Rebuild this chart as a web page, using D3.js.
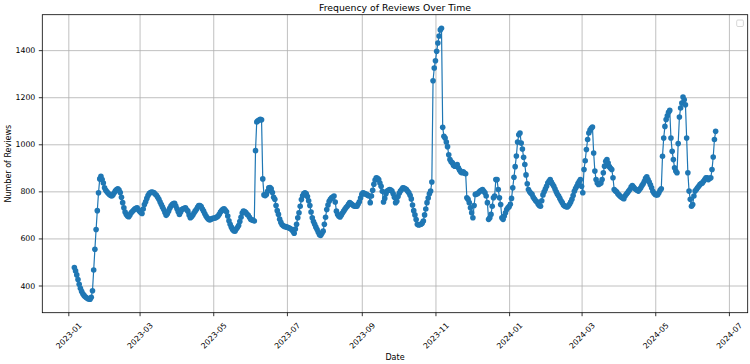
<!DOCTYPE html>
<html>
<head>
<meta charset="utf-8">
<script src="https://cdn.jsdelivr.net/npm/d3@7"></script>
<style>
  body { margin: 0; background: white; }
  svg { display: block; font-family: "DejaVu Sans", sans-serif; }
</style>
</head>
<body>
<div id="chart" style="width:750px;height:364px"></div>
<script>
// daily counts, first day below
const startDate = [2023, 0, 6]
const reviewCounts = [
  476, 462, 445, 425, 405, 388, 375, 365, 358, 352,
  348, 345, 343, 342, 350, 378, 466, 554, 638, 718,
  794, 853, 864, 850, 835, 815, 805, 798, 792, 787,
  783, 780, 786, 794, 802, 808, 811, 806, 795, 775,
  752, 730, 712, 702, 695, 692, 700, 709, 714, 720,
  725, 728, 730, 722, 716, 710,
  706, 725, 744, 756, 770, 782, 791, 795, 797, 796,
  794, 788, 783, 775, 766, 755, 744, 733, 723, 710,
  698, 705, 716, 728, 738, 744, 748, 749, 738, 726,
  713, 702, 712, 723, 726, 728, 730, 722, 716, 700,
  688, 692, 698, 708, 716, 723, 732, 740,
  740, 735, 725, 716, 705, 695, 688, 682, 678, 681,
  684, 686, 687, 688, 691, 695, 703, 712, 718, 724,
  726, 720, 713, 695, 675, 660, 648, 638, 633, 631,
  640, 646, 655, 672, 690, 708, 716, 714, 710, 703,
  698, 690, 681, 679, 677, 674, 973, 1095, 1100, 1103,
  1106, 1104,
  853, 785, 782, 787, 800, 815, 816, 811, 795, 775,
  766, 740, 718, 702, 682, 668, 658, 654, 651, 650,
  648, 646, 644, 641, 638, 630, 622, 640, 660, 688,
  709, 737, 765, 781, 791, 794, 790, 778, 760, 740,
  712, 688, 672, 660, 648, 638, 626, 616, 613, 622,
  631, 660, 690, 723, 742, 758, 766, 773, 776, 780,
  755, 716, 702, 694, 691, 698, 708, 716, 724, 731,
  737, 745, 752, 748, 744, 740, 737, 737, 737, 746,
  756, 772, 787, 794, 792, 789, 787, 783, 780, 752,
  780, 805, 830, 848, 858, 855, 850, 835, 822, 800,
  755, 770, 790, 801, 805, 808, 806, 801, 790, 775,
  752, 758, 778, 792, 801, 808, 815, 814, 811, 808,
  800, 794, 783, 768, 742, 718, 700, 680, 660, 657,
  658, 660, 665, 674, 700, 725, 752, 772, 790, 801,
  840, 1270, 1324, 1355, 1395, 1430, 1460, 1486, 1493, 1072,
  1034, 1027, 1010, 990, 955, 935, 926, 921, 910, 907,
  910, 914, 900, 890, 882, 879, 883, 878, 875, 773,
  766, 752, 730, 709, 688, 740, 787, 789, 791, 796,
  801, 805, 808, 800, 794, 780, 752, 681, 688, 702,
  737, 773, 780, 850, 850, 808, 773, 744, 688, 681,
  695, 709, 723, 730, 735, 745, 770, 815, 860, 905,
  950, 1010, 1040, 1048, 1005, 980, 945, 914, 870, 832,
  808, 798, 792, 787, 775, 767, 760, 756, 746, 740,
  737, 760, 785, 798, 810, 822, 835, 843, 850, 840,
  830, 822, 810, 798, 788, 780, 770, 760, 752, 742,
  738, 736, 734, 738, 745, 755, 766, 782, 800, 812,
  822, 833, 842, 850, 822, 794, 893, 930, 978, 1020,
  1048, 1060, 1068, 1073, 963, 886, 850, 835, 829, 832,
  836, 850, 879,
  907, 928, 935, 920, 905, 898, 893, 858, 808, 802,
  798, 790, 785, 779, 775, 772, 769, 780, 788, 794,
  801, 808, 818, 825, 818, 812, 808, 805, 801, 808,
  815, 825, 832, 843, 855, 862, 850, 840, 828, 815,
  800, 792, 787, 784, 786, 794, 805, 811, 949, 1027,
  1076, 1105, 1121, 1136, 1144, 1027, 970, 935, 900, 886,
  879, 1003, 1116, 1154, 1175, 1201, 1189, 1168, 1027, 879,
  801, 766, 737, 744, 780, 801, 808, 815, 822, 829,
  833, 836, 843, 850, 858, 858, 850, 855, 858, 893,
  946, 1020, 1055
]
const yTicks = [400, 600, 800, 1000, 1200, 1400]
const chartTitle = "Frequency of Reviews Over Time"
const xLabel = "Date"
const yLabel = "Number of Reviews"

const lineColor = "#1f77b4"
const gridColor = "#b0b0b0"

const drawLine = (container) => {
  const containerNode = d3.select(container).node();
  const Width = containerNode.getBoundingClientRect().width;
  const Height = containerNode.getBoundingClientRect().height;
  const margin = { top: 14.7, right: 2.3, bottom: 51.3, left: 42.3 },
    width = Width - margin.left - margin.right,
    height = Height - margin.top - margin.bottom;

  const svg = d3.select(container).append("svg")
    .attr("width", Width)
    .attr("height", Height);

  const data = reviewCounts.map((v, i) => ({
    date: d3.timeDay.offset(new Date(...startDate), i),
    value: v
  }));

  // 5% padding like matplotlib autoscale
  const [d0, d1] = d3.extent(data, d => d.date);
  const padT = (d1 - d0) * 0.05;
  const xScale = d3.scaleTime()
    .domain([new Date(+d0 - padT), new Date(+d1 + padT)])
    .range([0, width]);

  const [v0, v1] = d3.extent(data, d => d.value);
  const padV = (v1 - v0) * 0.05;
  const yScale = d3.scaleLinear()
    .domain([v0 - padV, v1 + padV])
    .range([height, 0]);

  const g = svg.append("g")
    .attr("transform", `translate(${margin.left},${margin.top})`);

  const monthTicks = d3.timeMonth.every(2);

  // grid
  g.append("g")
    .attr("transform", `translate(0,${height})`)
    .call(d3.axisBottom(xScale).ticks(monthTicks).tickSize(-height).tickFormat(""))
    .call(a => a.select(".domain").remove())
    .selectAll("line").attr("stroke", gridColor).attr("stroke-width", 0.8);

  g.append("g")
    .call(d3.axisLeft(yScale).tickValues(yTicks).tickSize(-width).tickFormat(""))
    .call(a => a.select(".domain").remove())
    .selectAll("line").attr("stroke", gridColor).attr("stroke-width", 0.8);

  // line + markers
  const line = d3.line()
    .x(d => xScale(d.date))
    .y(d => yScale(d.value));

  g.append("path")
    .datum(data)
    .attr("fill", "none")
    .attr("stroke", lineColor)
    .attr("stroke-width", 1.2)
    .attr("d", line);

  g.selectAll("circle")
    .data(data)
    .enter()
    .append("circle")
    .attr("cx", d => xScale(d.date))
    .attr("cy", d => yScale(d.value))
    .attr("r", 2.8)
    .attr("fill", lineColor);

  // axes
  const xAxisG = g.append("g")
    .attr("transform", `translate(0,${height})`)
    .call(d3.axisBottom(xScale).ticks(monthTicks).tickFormat(d3.timeFormat("%Y-%m")).tickSize(3.5))
    .attr("font-size", 7.8)
    .attr("font-family", "DejaVu Sans");
  xAxisG.select(".domain").remove();
  xAxisG.selectAll("line").attr("stroke", "#000").attr("stroke-width", 0.8);
  xAxisG.selectAll("text").each(function () {
    const w = this.getComputedTextLength();
    const half = (w + 7) * Math.SQRT1_2 / 2;
    d3.select(this)
      .attr("x", 0).attr("y", 0).attr("dy", "0.35em")
      .attr("fill", "#000")
      .attr("text-anchor", "middle")
      .attr("transform", `translate(0,${9 + half}) rotate(-45)`);
  });

  const yAxisG = g.append("g")
    .call(d3.axisLeft(yScale).tickValues(yTicks).tickFormat(d3.format("d")).tickSize(3.5).tickPadding(3.5))
    .attr("font-size", 7.8)
    .attr("font-family", "DejaVu Sans");
  yAxisG.select(".domain").remove();
  yAxisG.selectAll("line").attr("stroke", "#000").attr("stroke-width", 0.8);
  yAxisG.selectAll("text").attr("fill", "#000");

  // spines
  g.append("rect")
    .attr("width", width)
    .attr("height", height)
    .attr("fill", "none")
    .attr("stroke", "#000")
    .attr("stroke-width", 0.8);

  // empty legend box
  g.append("rect")
    .attr("x", width - 4.3 - 6.7)
    .attr("y", 5.3)
    .attr("width", 6.7)
    .attr("height", 6.5)
    .attr("rx", 1.2)
    .attr("fill", "white")
    .attr("stroke", "#cccccc")
    .attr("stroke-width", 0.8);

  // labels
  svg.append("text")
    .attr("x", margin.left + width / 2)
    .attr("y", 10.8)
    .attr("text-anchor", "middle")
    .style("font-size", "9.3px")
    .text(chartTitle);

  svg.append("text")
    .attr("x", margin.left + width / 2)
    .attr("y", 360)
    .attr("text-anchor", "middle")
    .style("font-size", "8px")
    .text(xLabel);

  svg.append("text")
    .attr("transform", `translate(10.5,${margin.top + height / 2}) rotate(-90)`)
    .attr("text-anchor", "middle")
    .style("font-size", "8px")
    .text(yLabel);
}

drawLine("#chart")
</script>
</body>
</html>
